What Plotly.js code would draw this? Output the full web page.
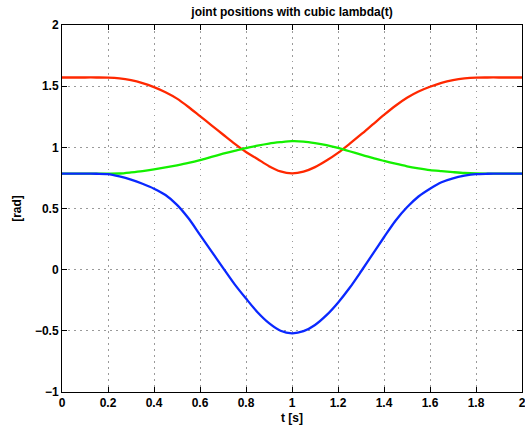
<!DOCTYPE html>
<html>
<head>
<meta charset="utf-8">
<script src="https://cdn.plot.ly/plotly-3.0.1.min.js"></script>
<style>html,body{margin:0;padding:0;background:#fff;}#chart{width:525px;height:433px;}</style>
</head>
<body>
<div id="chart"></div>
<script>
const t = [0, 0.05, 0.1, 0.15, 0.2, 0.25, 0.3, 0.35, 0.4, 0.45, 0.5, 0.55, 0.6, 0.65, 0.7, 0.75, 0.8, 0.85, 0.9, 0.95,
           1.0, 1.05, 1.1, 1.15, 1.2, 1.25, 1.3, 1.35, 1.4, 1.45, 1.5, 1.55, 1.6, 1.65, 1.7, 1.75, 1.8, 1.85, 1.9, 1.95, 2.0];
const q1 = [1.571, 1.571, 1.571, 1.571, 1.570, 1.564, 1.549, 1.525, 1.492, 1.450, 1.398, 1.330, 1.255, 1.180, 1.105, 1.030, 0.962, 0.905, 0.846, 0.803,
            0.787, 0.801, 0.838, 0.892, 0.955, 1.028, 1.105, 1.185, 1.265, 1.340, 1.405, 1.456, 1.495, 1.527, 1.549, 1.563, 1.570, 1.571, 1.571, 1.571, 1.571];
const q2 = [0.785, 0.785, 0.785, 0.785, 0.785, 0.786, 0.795, 0.806, 0.820, 0.836, 0.853, 0.872, 0.895, 0.922, 0.948, 0.972, 0.993, 1.014, 1.031, 1.042,
            1.050, 1.047, 1.035, 1.018, 0.995, 0.968, 0.940, 0.913, 0.889, 0.866, 0.845, 0.828, 0.814, 0.805, 0.797, 0.790, 0.786, 0.785, 0.785, 0.785, 0.785];
const q3 = [0.785, 0.785, 0.785, 0.784, 0.781, 0.762, 0.736, 0.702, 0.662, 0.610, 0.530, 0.420, 0.285, 0.150, 0.015, -0.118, -0.236, -0.348, -0.437, -0.499,
            -0.520, -0.503, -0.452, -0.372, -0.270, -0.150, -0.015, 0.125, 0.265, 0.400, 0.510, 0.598, 0.662, 0.715, 0.747, 0.768, 0.781, 0.784, 0.785, 0.785, 0.785];
const xTicks = [0, 0.2, 0.4, 0.6, 0.8, 1, 1.2, 1.4, 1.6, 1.8, 2];
const xTickText = ["0", "0.2", "0.4", "0.6", "0.8", "1", "1.2", "1.4", "1.6", "1.8", "2"];
const yTicks = [-1, -0.5, 0, 0.5, 1, 1.5, 2];
const yTickText = ["\u22121", "\u22120.5", "0", "0.5", "1", "1.5", "2"];

const fam = "Liberation Sans, Arial, sans-serif";
const mk = (y, c) => ({x: t, y: y, type: "scatter", mode: "lines",
  line: {color: c, width: 2.3, shape: "spline", smoothing: 0.8}, showlegend: false, hoverinfo: "skip"});

const axisCommon = {
  showline: true, linecolor: "#000", linewidth: 1, mirror: "ticks",
  ticks: "inside", ticklen: 5, tickcolor: "#000", tickwidth: 1,
  showgrid: true, gridcolor: "#9a9a9a", griddash: "1.5px,4.5px", gridwidth: 1,
  zeroline: false, ticklabeloverflow: "allow",
  tickfont: {family: fam, size: 12, color: "#000", weight: "bold"}
};

const layout = {
  width: 525, height: 433,
  margin: {l: 62, r: 3, t: 25, b: 41},
  paper_bgcolor: "#fff", plot_bgcolor: "#fff",
  title: {text: "joint positions with cubic lambda(t)", font: {family: fam, size: 12, color: "#000", weight: "bold"},
    x: 0.5, xref: "paper", y: 0.972, yref: "container", xanchor: "center", yanchor: "middle"},
  xaxis: Object.assign({}, axisCommon, {range: [0, 2], tickvals: xTicks, ticktext: xTickText,
    title: {text: "t [s]", font: {family: fam, size: 12, color: "#000", weight: "bold"}, standoff: 4}}),
  yaxis: Object.assign({}, axisCommon, {range: [-1, 2], tickvals: yTicks, ticktext: yTickText,
    title: {text: "[rad]", font: {family: fam, size: 12, color: "#000", weight: "bold"}, standoff: 10}})
};

Plotly.newPlot("chart", [mk(q1, "rgb(255,40,0)"), mk(q2, "rgb(20,240,0)"), mk(q3, "rgb(10,40,255)")], layout, {staticPlot: true, displayModeBar: false});
</script>
</body>
</html>
